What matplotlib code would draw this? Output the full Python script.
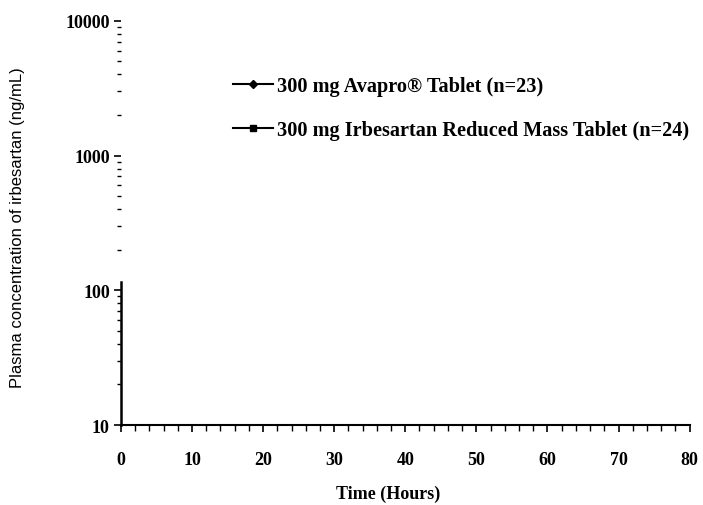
import matplotlib
matplotlib.use("Agg")
import matplotlib.pyplot as plt
from matplotlib.ticker import FixedLocator, LogLocator, NullFormatter, MultipleLocator

# Data (no visible data points in the reference; only legend entries)
series_names = ["300 mg Avapro\u00ae Tablet (n=23)",
                "300 mg Irbesartan Reduced Mass Tablet (n=24)"]
avapro_time = []
avapro_conc = []
rmt_time = []
rmt_conc = []
x_ticks = [0, 10, 20, 30, 40, 50, 60, 70, 80]
y_ticks = [10, 100, 1000, 10000]
y_tick_labels = ["10", "100", "1000", "10000"]

serif = ["Liberation Serif", "DejaVu Serif"]

fig = plt.figure(figsize=(7.03, 5.06), dpi=100)
ax = fig.add_axes([0.172, 0.158, 0.809, 0.799])

l1, = ax.plot(avapro_time, avapro_conc, color="black", marker="D", markersize=4, lw=1.5)
l2, = ax.plot(rmt_time, rmt_conc, color="black", marker="s", markersize=5, lw=1.5)

ax.set_yscale("log")
ax.set_xlim(0, 80)
ax.set_ylim(10, 10000)

ax.spines["top"].set_visible(False)
ax.spines["right"].set_visible(False)
ax.spines["left"].set_linewidth(1.8)
ax.spines["left"].set_bounds(10, 115)
ax.spines["bottom"].set_linewidth(1.5)

ax.xaxis.set_major_locator(FixedLocator(x_ticks))
ax.xaxis.set_minor_locator(MultipleLocator(2))
ax.yaxis.set_major_locator(FixedLocator(y_ticks))
ax.yaxis.set_minor_locator(LogLocator(base=10, subs=range(2, 10)))
ax.yaxis.set_minor_formatter(NullFormatter())
ax.set_yticklabels(y_tick_labels)

ax.tick_params(axis="x", which="major", direction="out", length=5, width=1.2, pad=14)
ax.tick_params(axis="x", which="minor", direction="out", length=4, width=1.0)
ax.tick_params(axis="y", which="major", direction="out", length=5, width=1.2, pad=3)
ax.tick_params(axis="y", which="minor", direction="out", length=3, width=1.0)

for lab in ax.get_xticklabels() + ax.get_yticklabels():
    lab.set_fontfamily(serif)
    lab.set_fontweight("bold")
    lab.set_fontsize(13)

ax.set_xlabel("Time (Hours)", fontfamily=serif, fontweight="bold", fontsize=13)
ax.xaxis.set_label_coords(0.469, -0.148)
ax.set_ylabel("Plasma concentration of irbesartan (ng/mL)",
              fontfamily=["Liberation Sans", "DejaVu Sans"], fontsize=12)
ax.yaxis.set_label_coords(-0.169, 0.49)

leg = fig.legend([l1, l2], series_names, loc="upper left",
                 bbox_to_anchor=(0.305, 0.883), frameon=False,
                 prop={"family": serif, "weight": "bold", "size": 14.6},
                 handlelength=2.0, handletextpad=0.2, labelspacing=1.15)

fig.savefig("out.png", dpi=100)
